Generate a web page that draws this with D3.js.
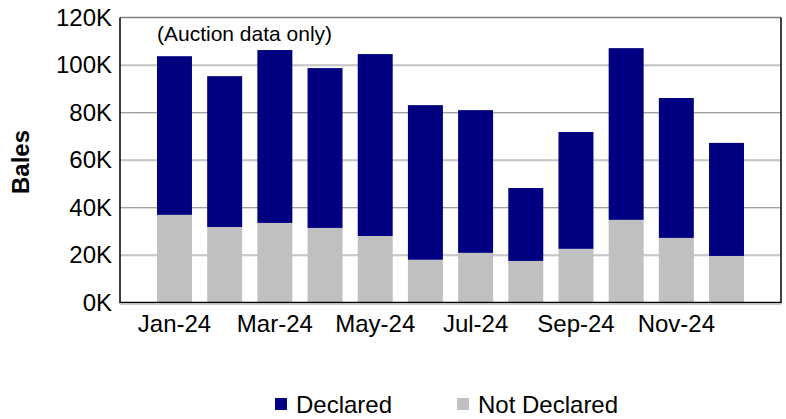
<!DOCTYPE html>
<html>
<head>
<meta charset="utf-8">
<script src="https://cdn.jsdelivr.net/npm/d3@7"></script>
<style>
  body { margin: 0; background: #fff; }
  text { font-family: Arial, "Liberation Sans", sans-serif; }
</style>
</head>
<body>
<div id="my_dataviz_bales"></div>
<script>
// values (thousands of bales)
const months = ["Jan-24","Feb-24","Mar-24","Apr-24","May-24","Jun-24","Jul-24","Aug-24","Sep-24","Oct-24","Nov-24","Dec-24"];
const notDeclared = [36.9, 31.8, 33.5, 31.4, 28.0, 18.0, 20.9, 17.5, 22.6, 34.8, 27.2, 19.6];
const declared    = [66.8, 63.5, 72.8, 67.3, 76.6, 65.1, 60.1, 30.7, 49.2, 72.3, 58.9, 47.6];
const tickLabels  = ["Jan-24","Mar-24","May-24","Jul-24","Sep-24","Nov-24"];
const yTicks      = [0, 20, 40, 60, 80, 100, 120];
const seriesNames = ["Declared", "Not Declared"];

function generate_svg_bales(){
  const margin_bales = {top: 17.5, right: 5, bottom: 116.5, left: 120};
  const width_bales = 786 - margin_bales.left - margin_bales.right;
  const height_bales = 419 - margin_bales.top - margin_bales.bottom;

  const svg_root = d3.select("#my_dataviz_bales")
    .append("svg")
      .attr("width", 786)
      .attr("height", 419);

  const svg_bales = svg_root.append("g")
      .attr("transform", `translate(${margin_bales.left}, ${margin_bales.top})`);

  const myColor_bales = d3.scaleOrdinal()
    .domain(seriesNames)
    .range(["#000080", "#c0c0c0"]);

  const x_bales = d3.scaleBand()
    .domain(months)
    .range([0, width_bales])
    .paddingInner(0.303)
    .paddingOuter(0.737);

  const y_bales = d3.scaleLinear()
    .domain([0, 120])
    .range([height_bales, 0]);

  // gridlines (a darker line with a light one just below, like the original)
  svg_bales.append("g")
    .selectAll("line.grid2")
    .data(yTicks.filter(d => d > 0 && d < 120))
    .join("line")
      .attr("x1", 0).attr("x2", width_bales)
      .attr("y1", d => y_bales(d) + 1).attr("y2", d => y_bales(d) + 1)
      .style("stroke", "#dcdcdc")
      .style("stroke-width", 1);
  svg_bales.append("g")
    .selectAll("line.grid")
    .data(yTicks.filter(d => d > 0 && d < 120))
    .join("line")
      .attr("x1", 0).attr("x2", width_bales)
      .attr("y1", d => y_bales(d)).attr("y2", d => y_bales(d))
      .style("stroke", "#a0a0a0")
      .style("stroke-width", 1);

  // stacked bars
  const table = months.map((m, i) => ({month: m, "Not Declared": notDeclared[i], "Declared": declared[i]}));
  const stacked = d3.stack().keys(["Not Declared", "Declared"])(table);

  svg_bales.selectAll("g.layer")
    .data(stacked)
    .join("g")
      .attr("fill", d => myColor_bales(d.key))
    .selectAll("rect")
    .data(d => d)
    .join("rect")
      .attr("x", d => x_bales(d.data.month))
      .attr("width", x_bales.bandwidth())
      .attr("y", d => y_bales(d[1]))
      .attr("height", d => y_bales(d[0]) - y_bales(d[1]));

  // frame: grey top, black left/right/bottom
  svg_bales.append("line")
    .attr("x1", 0).attr("x2", width_bales).attr("y1", 0).attr("y2", 0)
    .style("stroke", "#808080").style("stroke-width", 1.5);
  svg_bales.append("line")
    .attr("x1", 0).attr("x2", width_bales).attr("y1", height_bales + 2).attr("y2", height_bales + 2)
    .style("stroke", "#c8c8c8").style("stroke-width", 1);
  svg_bales.append("path")
    .attr("d", `M0,0V${height_bales}H${width_bales}V0`)
    .style("fill", "none")
    .style("stroke", "#000")
    .style("stroke-width", 1.5);

  // y axis labels
  const yAxis = svg_bales.append("g")
    .call(d3.axisLeft(y_bales).tickValues(yTicks).tickSize(0).tickPadding(8).tickFormat(d => d + "K"));
  yAxis.select(".domain").remove();
  yAxis.selectAll("text")
    .style("font-size", "24px")
    .style("fill", "#000");

  // x axis labels (every other month)
  const xAxis = svg_bales.append("g")
    .attr("transform", `translate(0, ${height_bales})`)
    .call(d3.axisBottom(x_bales).tickValues(tickLabels).tickSize(0).tickPadding(12));
  xAxis.select(".domain").remove();
  xAxis.selectAll("text")
    .style("font-size", "24px")
    .style("fill", "#000");

  // text label for the y axis
  svg_root.append("text")
    .attr("transform", "translate(29, 162) rotate(-90)")
    .style("text-anchor", "middle")
    .style("font-weight", "bold")
    .style("font-size", "24px")
    .text("Bales");

  // note
  svg_bales.append("text")
    .attr("x", 37)
    .attr("y", 23)
    .style("font-size", "21px")
    .text("(Auction data only)");

  // legend
  const legendX = [275, 457];
  const legend = svg_root.append("g")
    .selectAll("g")
    .data(seriesNames)
    .join("g")
      .attr("transform", (d, i) => `translate(${legendX[i]}, 0)`);
  legend.append("rect")
    .attr("x", 0).attr("y", 398)
    .attr("width", 12).attr("height", 12)
    .attr("fill", d => myColor_bales(d));
  legend.append("text")
    .attr("x", 21).attr("y", 413)
    .style("font-size", "24px")
    .text(d => d);
}

generate_svg_bales();
</script>
</body>
</html>
